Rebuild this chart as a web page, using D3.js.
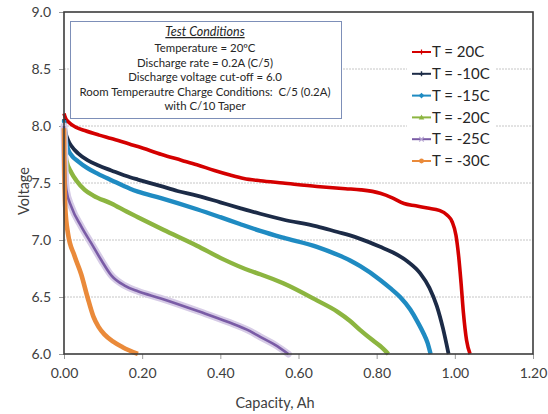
<!DOCTYPE html>
<html><head><meta charset="utf-8">
<script src="https://cdn.jsdelivr.net/npm/d3@7"></script>
<style>
html,body{margin:0;padding:0;background:#fff;}
svg{display:block;font-family:Lato,"Open Sans",sans-serif;}
</style></head>
<body>
<svg id="chart" width="548" height="414"></svg>
<script>
// ---- data ----
const seriesNames = ["T = 20C", "T = -10C", "T = -15C", "T = -20C", "T = -25C", "T = -30C"];
const seriesColors = ["#d40000", "#1c2b47", "#1f8bc2", "#8cb540", "#7a5ca6", "#ea8a3a"];
const seriesMarkers = ["dash", "plus", "diamond", "triangle", "cross", "circle"];
const t20 = [[0,8.11],[0.005,8.06],[0.01,8.04],[0.03,7.99],[0.053,7.96],[0.09,7.92],[0.121,7.89],[0.169,7.84],[0.189,7.82],[0.25,7.75],[0.30,7.70],[0.34,7.66],[0.385,7.61],[0.425,7.57],[0.46,7.54],[0.502,7.52],[0.56,7.50],[0.647,7.47],[0.72,7.45],[0.76,7.44],[0.809,7.41],[0.84,7.37],[0.87,7.32],[0.90,7.30],[0.93,7.28],[0.96,7.26],[0.98,7.22],[0.993,7.16],[1.003,7.04],[1.010,6.85],[1.016,6.62],[1.022,6.36],[1.030,6.12],[1.039,6.0]];
const tm10 = [[0,8.06],[0.004,7.95],[0.01,7.88],[0.02,7.82],[0.036,7.76],[0.06,7.70],[0.087,7.655],[0.121,7.61],[0.169,7.55],[0.189,7.53],[0.246,7.475],[0.29,7.43],[0.34,7.39],[0.40,7.33],[0.45,7.28],[0.502,7.23],[0.56,7.18],[0.647,7.12],[0.70,7.07],[0.732,7.04],[0.758,7.01],[0.809,6.94],[0.842,6.89],[0.88,6.81],[0.911,6.71],[0.935,6.58],[0.954,6.42],[0.97,6.22],[0.984,6.0]];
const tm15 = [[0,8.05],[0.004,7.90],[0.01,7.80],[0.02,7.74],[0.036,7.69],[0.06,7.63],[0.087,7.58],[0.121,7.525],[0.169,7.45],[0.189,7.425],[0.246,7.37],[0.34,7.27],[0.40,7.20],[0.45,7.14],[0.502,7.08],[0.561,7.02],[0.647,6.94],[0.70,6.87],[0.732,6.82],[0.758,6.77],[0.809,6.65],[0.834,6.58],[0.86,6.50],[0.886,6.39],[0.905,6.28],[0.920,6.18],[0.930,6.10],[0.938,6.0]];
const tm20 = [[0,7.98],[0.003,7.80],[0.006,7.70],[0.019,7.59],[0.032,7.52],[0.053,7.44],[0.075,7.39],[0.121,7.32],[0.16,7.25],[0.189,7.20],[0.254,7.09],[0.34,6.95],[0.408,6.83],[0.476,6.73],[0.502,6.70],[0.561,6.62],[0.647,6.47],[0.70,6.37],[0.732,6.29],[0.758,6.21],[0.79,6.12],[0.809,6.07],[0.83,6.0]];
const tm25 = [[0,8.0],[0.002,7.7],[0.006,7.44],[0.019,7.29],[0.044,7.12],[0.07,6.97],[0.096,6.82],[0.121,6.69],[0.155,6.60],[0.189,6.55],[0.246,6.49],[0.348,6.37],[0.42,6.28],[0.476,6.20],[0.502,6.15],[0.54,6.08],[0.574,6.0]];
const tm30 = [[0,7.98],[0.001,7.6],[0.003,7.3],[0.010,7.06],[0.027,6.86],[0.044,6.70],[0.06,6.50],[0.075,6.33],[0.088,6.24],[0.104,6.17],[0.125,6.11],[0.15,6.06],[0.189,6.0]];
const seriesData = [t20, tm10, tm15, tm20, tm25, tm30];
const xTicks = [0, 0.2, 0.4, 0.6, 0.8, 1.0, 1.2];
const yTicks = [6.0, 6.5, 7.0, 7.5, 8.0, 8.5, 9.0];
const noteLines = ["Temperature = 20ºC", "Discharge rate = 0.2A (C/5)", "Discharge voltage cut-off = 6.0", "Room Temperautre Charge Conditions:  C/5 (0.2A)", "with C/10 Taper"];
const noteTitle = "Test Conditions";

// ---- layout ----
const svg = d3.select("#chart");
const L = 64, R = 533, T = 12, B = 354;
const x = d3.scaleLinear().domain([0, 1.2]).range([L, R]);
const y = d3.scaleLinear().domain([6, 9]).range([B, T]);
const textCol = "#404040";

// gridlines
svg.append("g").selectAll("line").data(yTicks.filter(v => v > 6 && v < 9)).join("line")
  .attr("x1", L).attr("x2", R).attr("y1", d => y(d)).attr("y2", d => y(d))
  .attr("stroke", "#c6c6c6").attr("stroke-width", 1).attr("stroke-dasharray", "2,1");

// axes
const yAxis = svg.append("g").attr("transform", `translate(${L},0)`)
  .call(d3.axisLeft(y).tickValues(yTicks).tickFormat(d3.format(".1f")).tickSize(5).tickPadding(8));
const xAxis = svg.append("g").attr("transform", `translate(0,${B})`)
  .call(d3.axisBottom(x).tickValues(xTicks).tickFormat(d3.format(".2f")).tickSize(5).tickPadding(9));
[yAxis, xAxis].forEach(g => {
  g.select(".domain").remove();
  g.selectAll(".tick line").attr("stroke", "#9a9a9a");
  g.selectAll(".tick text").attr("fill", textCol).style("font-size", "14px").style("font-family", "Lato");
});

// text box
const box = svg.append("g");
box.append("rect").attr("x", 70.5).attr("y", 21.5).attr("width", 271).attr("height", 97)
  .attr("fill", "#fff").attr("stroke", "#7d8fb8").attr("stroke-width", 1);
const cx = 205;
box.append("text").attr("x", cx).attr("y", 36).attr("text-anchor", "middle")
  .style("font-size", "12.5px").style("font-style", "italic").style("text-decoration", "underline")
  .attr("fill", "#262626").text(noteTitle);
box.selectAll("text.n").data(noteLines).join("text").attr("class", "n")
  .attr("x", cx).attr("y", (d, i) => 52 + i * 14.5).attr("text-anchor", "middle")
  .style("font-size", "11.4px").style("white-space", "pre").attr("fill", "#262626").text(d => d);

// legend background
svg.append("rect").attr("x", 407).attr("y", 40).attr("width", 88).attr("height", 133).attr("fill", "#fff");

// series
const line = d3.line().x(d => x(d[0])).y(d => y(d[1])).curve(d3.curveMonotoneX);
const widths = [3.6, 3.8, 4.4, 4.4, 2.6, 4.6];
seriesData.forEach((data, i) => {
  if (i === 4) {
    svg.append("path").datum(data).attr("d", line).attr("fill", "none")
      .attr("stroke", "#d6cbe6").attr("stroke-width", 7).attr("stroke-linejoin", "round").attr("stroke-linecap", "round");
  }
  svg.append("path").datum(data).attr("d", line).attr("fill", "none")
    .attr("stroke", seriesColors[i]).attr("stroke-width", widths[i])
    .attr("stroke-linejoin", "round").attr("stroke-linecap", "butt");
});

// frame
svg.append("rect").attr("x", L).attr("y", T).attr("width", R - L).attr("height", B - T)
  .attr("fill", "none").attr("stroke", "#3c3c3c").attr("stroke-width", 1.6);

// legend
const lg = svg.append("g");
seriesNames.forEach((name, i) => {
  const ly = 52 + i * 21.8;
  const c = seriesColors[i];
  lg.append("line").attr("x1", 412).attr("x2", 431).attr("y1", ly).attr("y2", ly)
    .attr("stroke", c).attr("stroke-width", 2);
  const mx = 421.5, m = seriesMarkers[i];
  if (m === "dash") lg.append("line").attr("x1", mx).attr("x2", mx).attr("y1", ly - 2.5).attr("y2", ly + 2.5).attr("stroke", c).attr("stroke-width", 1.2);
  else if (m === "plus") lg.append("path").attr("d", `M${mx-2.5},${ly}H${mx+2.5}M${mx},${ly-2.5}V${ly+2.5}`).attr("stroke", c).attr("stroke-width", 1.4);
  else if (m === "diamond") lg.append("path").attr("d", `M${mx},${ly-2.8}L${mx+2.8},${ly}L${mx},${ly+2.8}L${mx-2.8},${ly}Z`).attr("fill", c);
  else if (m === "triangle") lg.append("path").attr("d", `M${mx},${ly-2.8}L${mx+2.8},${ly+2}L${mx-2.8},${ly+2}Z`).attr("fill", c);
  else if (m === "cross") lg.append("path").attr("d", `M${mx-2.3},${ly-2.3}L${mx+2.3},${ly+2.3}M${mx-2.3},${ly+2.3}L${mx+2.3},${ly-2.3}`).attr("stroke", "#b9a8d4").attr("stroke-width", 1.2);
  else lg.append("circle").attr("cx", mx).attr("cy", ly).attr("r", 2.4).attr("fill", c);
  lg.append("text").attr("x", 432).attr("y", ly).attr("dy", "0.35em")
    .style("font-size", "15px").attr("fill", "#262626").text(name);
});

// axis titles
svg.append("text").attr("x", 275).attr("y", 408).attr("text-anchor", "middle")
  .style("font-size", "14.5px").attr("fill", textCol).text("Capacity, Ah");
svg.append("text").attr("transform", "translate(24,191) rotate(-90)").attr("text-anchor", "middle")
  .attr("dy", "0.35em").style("font-size", "14.5px").attr("fill", textCol).text("Voltage");
</script>
</body></html>
